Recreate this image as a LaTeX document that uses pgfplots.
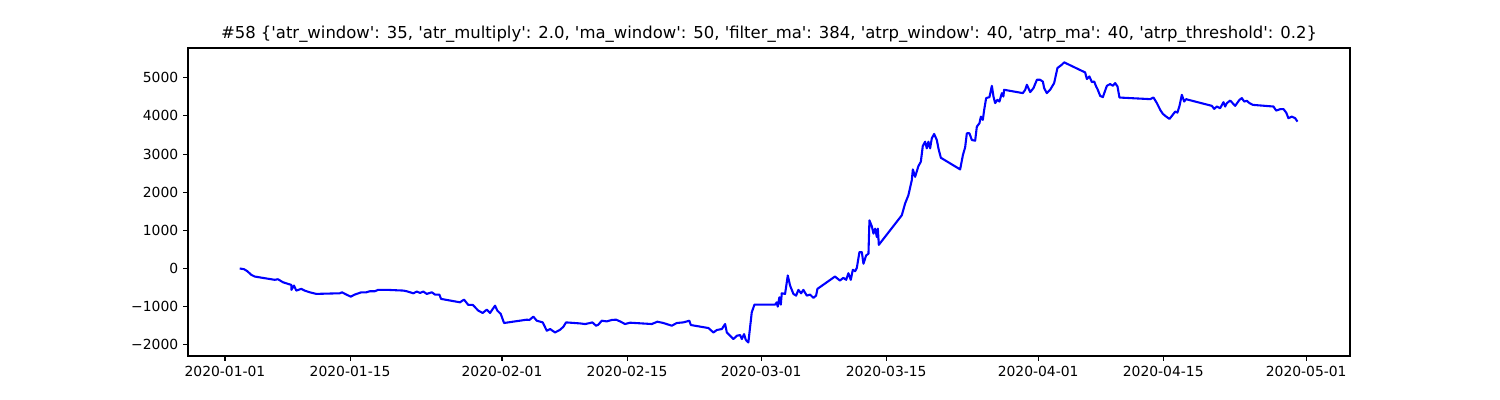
\documentclass[border=0pt]{standalone}
\usepackage{fontspec}
\setmainfont{DejaVu Sans}[Ligatures=TeXOff]
\usepackage{pgfplots}
\pgfplotsset{compat=1.18}
\begin{document}
\begin{tikzpicture}
\path[use as bounding box] (0,0) rectangle (1080pt,288pt);
\begin{axis}[
  at={(135.36pt,31.68pt)}, anchor=south west,
  width=836.64pt, height=221.76pt, scale only axis,
  xmin=-4.14, xmax=125.9, ymin=-2294, ymax=5781,
  axis line style={line width=0.8pt},
  tick align=outside, tick style={line width=0.8pt, black},
  major tick length=3.5pt,
  xtick={0,14,31,45,60,74,91,105,121},
  xticklabels={2020-01-01,2020-01-15,2020-02-01,2020-02-15,2020-03-01,2020-03-15,2020-04-01,2020-04-15,2020-05-01},
  ytick={-2000,-1000,0,1000,2000,3000,4000,5000},
  yticklabels={−2000,−1000,0,1000,2000,3000,4000,5000},
  xtick pos=bottom, ytick pos=left,
  tick label style={font=\fontsize{10pt}{12pt}\selectfont},
  title={\#58 \{'atr\_window': 35, 'atr\_multiply': 2.0, 'ma\_window': 50, 'filter\_ma': 384, 'atrp\_window': 40, 'atrp\_ma': 40, 'atrp\_threshold': 0.2\}},
  every axis title/.style={font=\fontsize{11.85pt}{14pt}\selectfont, at={(0.5,1)}, anchor=base, inner sep=0pt, yshift=6.48pt},
]
\addplot[color={rgb,1:red,0;green,0;blue,1}, line width=1.5pt, line join=round] coordinates {
(1.65,0) (2.13,-18) (2.50,-71) (2.94,-166) (3.32,-211) (5.56,-297) (5.93,-282)
(6.49,-361) (7.05,-403) (7.42,-429) (7.43,-561) (7.72,-447) (7.98,-579) (8.54,-534)
(8.92,-579) (9.48,-624) (10.22,-666) (12.84,-650) (13.10,-624) (13.58,-684) (14.07,-737)
(14.52,-684) (15.26,-624) (15.82,-624) (16.20,-597) (16.76,-597) (17.13,-561) (18.25,-561)
(19.96,-579) (20.34,-597) (21.08,-650) (21.46,-605) (21.83,-640) (22.20,-605) (22.58,-666)
(23.14,-624) (23.51,-684) (23.99,-684) (24.18,-797) (26.30,-887) (26.75,-816) (27.23,-955)
(27.73,-955) (28.35,-1105) (28.84,-1166) (29.29,-1079) (29.66,-1166) (30.22,-974) (30.48,-1105)
(30.86,-1192) (31.23,-1429) (33.77,-1342) (34.06,-1350) (34.51,-1263) (34.89,-1369) (35.56,-1413)
(36.01,-1632) (36.38,-1587) (36.94,-1677) (37.50,-1606) (37.87,-1527) (38.17,-1413) (39.74,-1440)
(40.30,-1456) (40.86,-1429) (41.11,-1413) (41.53,-1500) (41.78,-1474) (42.16,-1369) (42.72,-1387)
(43.28,-1350) (43.77,-1342) (44.21,-1387) (44.77,-1456) (45.33,-1421) (47.76,-1456) (48.39,-1395)
(49.06,-1429) (50.00,-1500) (50.56,-1429) (51.30,-1413) (51.97,-1369) (52.13,-1482) (54.10,-1561)
(54.66,-1677) (55.04,-1613) (55.60,-1587) (55.97,-1456) (56.16,-1677) (56.53,-1763) (56.90,-1850)
(57.28,-1763) (57.65,-1745) (57.84,-1850) (58.09,-1719) (58.28,-1869) (58.57,-1940) (58.95,-1150)
(59.25,-948) (61.56,-948) (61.75,-887) (61.86,-1000) (62.04,-755) (62.20,-948) (62.31,-650)
(62.68,-666) (62.98,-184) (63.24,-447) (63.61,-666) (63.91,-711) (64.17,-561) (64.47,-650)
(64.73,-561) (65.11,-711) (65.48,-684) (65.85,-771) (66.15,-711) (66.30,-534) (68.26,-211)
(68.82,-316) (69.20,-245) (69.51,-297) (69.77,-124) (70.03,-297) (70.26,-34) (70.52,-71)
(70.71,18) (71.00,429) (71.27,429) (71.45,124) (71.75,342) (72.01,387) (72.12,1263)
(72.39,1105) (72.57,913) (72.76,1045) (72.95,824) (73.06,1045) (73.17,620) (75.74,1395)
(76.11,1703) (76.48,1921) (76.86,2316) (76.98,2598) (77.23,2403) (77.60,2685) (77.87,2798)
(78.09,3211) (78.35,3324) (78.54,3150) (78.72,3324) (78.91,3150) (79.10,3414) (79.36,3527)
(79.66,3369) (79.84,3150) (80.11,2903) (82.27,2598) (82.58,2974) (82.83,3177) (83.02,3545)
(83.31,3545) (83.58,3369) (83.95,3350) (84.14,3719) (84.43,3808) (84.59,3982) (84.81,3895)
(84.96,4159) (85.18,4467) (85.55,4493) (85.82,4790) (86.00,4509) (86.19,4335) (86.44,4422)
(86.67,4377) (86.94,4598) (87.11,4509) (87.19,4685) (89.29,4598) (89.55,4685) (89.74,4817)
(90.11,4624) (90.48,4730) (90.86,4948) (91.22,4948) (91.53,4900) (91.67,4730) (91.97,4598)
(92.34,4685) (92.79,4861) (93.16,5256) (93.65,5343) (93.91,5404) (96.26,5140) (96.45,4967)
(96.74,5035) (97.01,4888) (97.27,4903) (97.49,4772) (97.64,4703) (97.94,4527) (98.24,4493)
(98.69,4790) (99.06,4835) (99.36,4790) (99.62,4861) (99.88,4772) (100.10,4482) (103.54,4440)
(103.91,4482) (104.29,4335) (104.66,4159) (104.96,4053) (105.33,3982) (105.70,3922) (105.97,4001)
(106.34,4114) (106.59,4088) (106.82,4264) (107.08,4553) (107.34,4377) (107.56,4440) (107.82,4422)
(110.44,4264) (110.70,4185) (111.00,4246) (111.37,4203) (111.74,4361) (111.93,4246) (112.12,4335)
(112.49,4403) (113.05,4264) (113.53,4422) (113.80,4467) (114.06,4377) (114.36,4395) (114.65,4335)
(115.03,4290) (117.34,4246) (117.64,4140) (118.09,4177) (118.46,4177) (118.76,4088) (119.01,3940)
(119.39,3982) (119.76,3940) (120.02,3851)
};
\end{axis}
\end{tikzpicture}
\end{document}
